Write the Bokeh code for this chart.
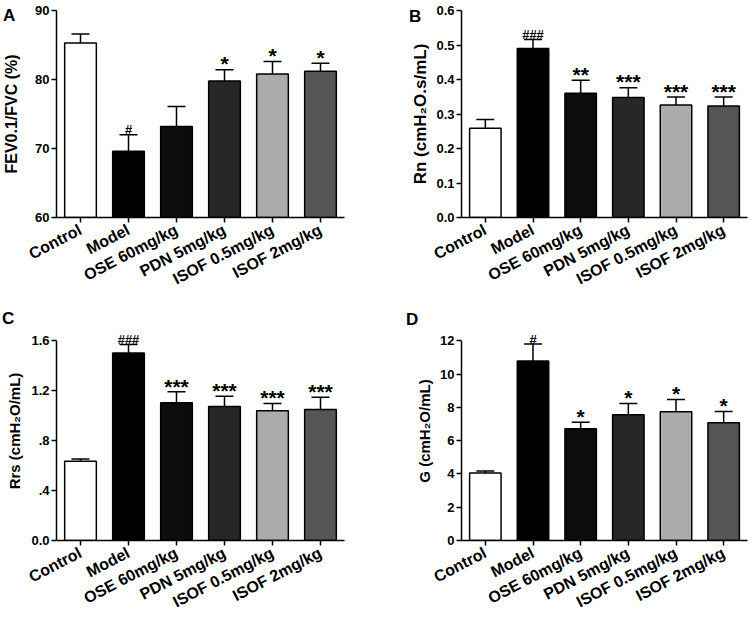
from bokeh.plotting import figure
from bokeh.layouts import gridplot
from bokeh.models import (FactorRange, Range1d, Whisker, TeeHead, ColumnDataSource,
                          FixedTicker)
from bokeh.core.properties import value
from bokeh.embed import file_html
from bokeh.resources import INLINE

groups = ["Control", "Model", "OSE 60mg/kg", "PDN 5mg/kg", "ISOF 0.5mg/kg", "ISOF 2mg/kg"]
bar_colors = ["#ffffff", "#000000", "#0c0c0c", "#272727", "#ababab", "#555555"]
panel_letters = ["A", "B", "C", "D"]

fev_mean = [85.3, 69.6, 73.2, 79.8, 80.8, 81.2]
fev_upper = [86.6, 72.0, 76.1, 81.4, 82.6, 82.35]
fev_sig = ["", "#", "", "*", "*", "*"]

rn_mean = [0.259, 0.490, 0.360, 0.348, 0.326, 0.323]
rn_upper = [0.284, 0.516, 0.398, 0.376, 0.349, 0.349]
rn_sig = ["", "###", "**", "***", "***", "***"]

rrs_mean = [0.634, 1.502, 1.104, 1.073, 1.040, 1.050]
rrs_upper = [0.652, 1.569, 1.191, 1.155, 1.097, 1.148]
rrs_sig = ["", "###", "***", "***", "***", "***"]

g_mean = [4.05, 10.79, 6.72, 7.56, 7.73, 7.07]
g_upper = [4.18, 11.80, 7.11, 8.23, 8.47, 7.75]
g_sig = ["", "#", "*", "*", "*", "*"]

fev_ticks = [60, 70, 80, 90]
fev_tick_labels = ["60", "70", "80", "90"]
rn_ticks = [0.0, 0.1, 0.2, 0.3, 0.4, 0.5, 0.6]
rn_tick_labels = ["0.0", "0.1", "0.2", "0.3", "0.4", "0.5", "0.6"]
rrs_ticks = [0.0, 0.4, 0.8, 1.2, 1.6]
rrs_tick_labels = ["0.0", ".4", ".8", "1.2", "1.6"]
g_ticks = [0, 2, 4, 6, 8, 10, 12]
g_tick_labels = ["0", "2", "4", "6", "8", "10", "12"]

FONT = "Liberation Sans"
W, H = 376, 310


def panel(ylabel, mean, upper, sig, ticks, tick_labels, borders, headroom,
          standoff, label_size):
    left, right, top, bottom = borders
    ystart, yend = ticks[0], ticks[-1]
    dpp = (yend - ystart) / (H - top - bottom)   # data units per pixel
    p = figure(width=W, height=H, x_range=FactorRange(*groups),
               y_range=Range1d(ystart, yend + headroom * dpp), output_backend="svg",
               toolbar_location=None, min_border_left=left, min_border_right=right,
               min_border_top=top - headroom, min_border_bottom=bottom)
    p.outline_line_color = None
    p.xgrid.grid_line_color = None
    p.ygrid.grid_line_color = None
    p.background_fill_color = None
    p.border_fill_color = None

    src = ColumnDataSource(dict(g=groups, m=mean, u=upper, c=bar_colors,
                                b=[ystart] * len(groups)))
    p.add_layout(Whisker(base="g", lower="m", upper="u", source=src,
                         dimension="height", line_color="black", line_width=1.5,
                         upper_head=TeeHead(size=18, line_color="black", line_width=1.5),
                         lower_head=None, level="underlay"))
    p.vbar(x="g", top="m", bottom="b", width=0.66, fill_color="c",
           line_color="black", line_width=1.5, source=src)

    hx = [g for g, s in zip(groups, sig) if s.startswith("#")]
    hy = [u + 5 * dpp for u, s in zip(upper, sig) if s.startswith("#")]
    ht = [s for s in sig if s.startswith("#")]
    sx = [g for g, s in zip(groups, sig) if s.startswith("*")]
    sy = [u + 6 * dpp for u, s in zip(upper, sig) if s.startswith("*")]
    st = [s for s in sig if s.startswith("*")]
    if hx:
        p.text(x=hx, y=hy, text=ht, text_font=value(FONT), text_font_size="13px",
               text_font_style="bold", text_align="center",
               text_baseline="alphabetic", text_color="black")
    if sx:
        p.text(x=sx, y=sy, text=st, text_font=value(FONT), text_font_size="21px",
               text_font_style="bold", text_align="center",
               text_baseline="alphabetic", text_color="black")

    for ax in (p.xaxis, p.yaxis):
        ax.axis_line_width = 1.5
        ax.axis_line_color = "black"
        ax.major_tick_line_width = 1.5
        ax.major_tick_line_color = "black"
        ax.major_tick_out = 5
        ax.major_tick_in = 0
        ax.minor_tick_line_color = None
        ax.major_label_text_font = FONT
        ax.major_label_text_font_style = "bold"
        ax.major_label_text_color = "black"
    p.xaxis.major_label_text_font_size = "16px"
    p.xaxis.major_label_orientation = 0.48
    p.xaxis.major_label_standoff = 6
    p.yaxis.bounds = (ystart, yend)
    p.yaxis.major_label_text_font_size = "13px"
    p.yaxis.major_label_standoff = 2
    p.yaxis.ticker = FixedTicker(ticks=ticks)
    p.yaxis.major_label_overrides = {t: l for t, l in zip(ticks, tick_labels)}
    p.yaxis.axis_label = ylabel
    p.yaxis.axis_label_text_font = FONT
    p.yaxis.axis_label_text_font_style = "bold"
    p.yaxis.axis_label_text_font_size = label_size
    p.yaxis.axis_label_text_color = "black"
    p.yaxis.axis_label_standoff = standoff
    return p


pA = panel("FEV0.1/FVC (%)", fev_mean, fev_upper, fev_sig,
           fev_ticks, fev_tick_labels, (54, 32, 10, 91), 0, 12, "16px")
pB = panel("Rn (cmH\u2082O.s/mL)", rn_mean, rn_upper, rn_sig,
           rn_ticks, rn_tick_labels, (80, 5, 10, 93), 0, 3, "17px")
pC = panel("Rrs (cmH\u2082O/mL)", rrs_mean, rrs_upper, rrs_sig,
           rrs_ticks, rrs_tick_labels, (54, 32, 29, 73), 20, 5, "15px")
pD = panel("G (cmH\u2082O/mL)", g_mean, g_upper, g_sig,
           g_ticks, g_tick_labels, (85, 4, 31, 72), 20, 4, "15px")

grid = gridplot([[pA, pB], [pC, pD]], toolbar_location=None)

# panel letters as page text, absolutely positioned over the grid
letter_pos = [(3, 7), (409, 8), (2, 310), (406, 311)]
letters_html = "\n".join(
    '<div class="panel-letter" style="left:%dpx;top:%dpx;">%s</div>' % (x, y, t)
    for t, (x, y) in zip(panel_letters, letter_pos))
template = """
{% block postamble %}
<style>
.panel-letter { position: absolute; margin: 0; padding: 0; line-height: 1;
  font-family: "Liberation Sans", Arial, sans-serif; font-weight: bold;
  font-size: 17px; color: #000; z-index: 10; }
</style>
{% endblock %}
{% block inner_body %}
{{ super() }}
""" + letters_html + """
{% endblock %}
"""
open("out.html", "w").write(file_html(grid, INLINE, template=template))
